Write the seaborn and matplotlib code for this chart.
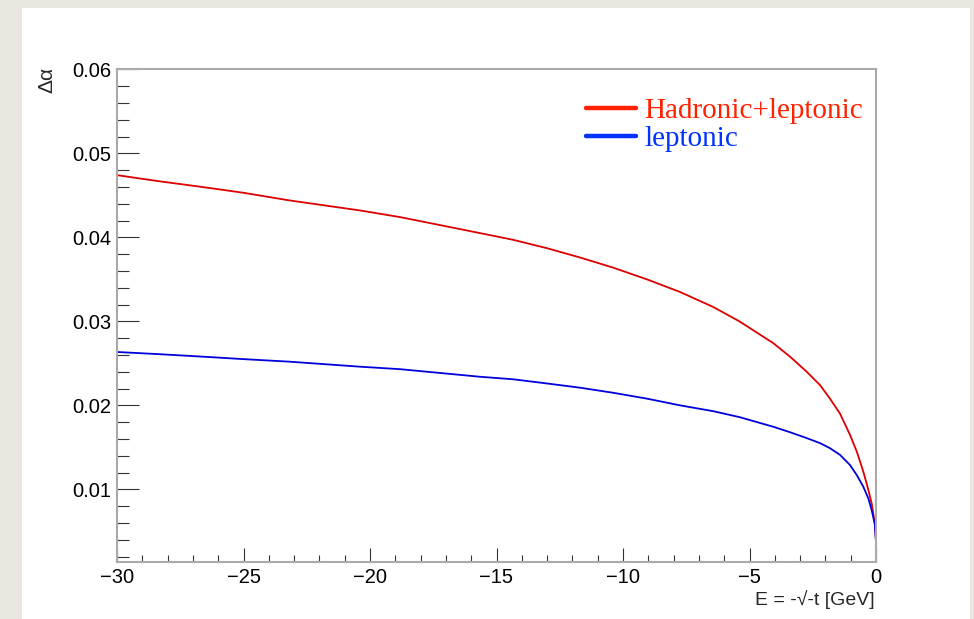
import numpy as np
import pandas as pd
import matplotlib
matplotlib.use('Agg')
import matplotlib.pyplot as plt
import seaborn as sns
from matplotlib.lines import Line2D
from matplotlib.patches import Rectangle
from matplotlib.ticker import MultipleLocator

# values
energy = [-30, -28.4, -26.65, -25, -23.2, -20.4, -18.8, -15.65, -14.34, -13.0, -11.7,
          -10.4, -9.06, -7.75, -6.43, -5.4, -4.06, -3.4, -2.74, -2.21, -1.82, -1.42,
          -1.03, -0.76, -0.5, -0.3, -0.17, -0.05, -0.005]
had_lep = [0.0474, 0.0467, 0.0460, 0.0453, 0.0444, 0.0432, 0.0424, 0.0405, 0.0397, 0.0387, 0.0376,
           0.0364, 0.0350, 0.0335, 0.0317, 0.0300, 0.0274, 0.0258, 0.0240, 0.0224, 0.0208, 0.0190,
           0.0165, 0.0145, 0.0121, 0.0099, 0.0083, 0.0060, 0.0040]
lep = [0.02635, 0.0261, 0.0258, 0.0255, 0.0252, 0.0246, 0.0243, 0.0234, 0.0231, 0.0226, 0.0221,
       0.0215, 0.0208, 0.0200, 0.0193, 0.0186, 0.01745, 0.0168, 0.0161, 0.0155, 0.0149, 0.0141,
       0.0129, 0.0117, 0.0103, 0.0089, 0.0075, 0.0059, 0.0040]
labels = ['Hadronic+leptonic', 'leptonic']

df = pd.DataFrame({
    'E': energy * 2,
    'dalpha': had_lep + lep,
    'set': [labels[0]] * len(energy) + [labels[1]] * len(energy),
})

sns.set_style('white')
plt.rcParams['font.family'] = ['Liberation Sans', 'DejaVu Sans']
plt.rcParams['axes.unicode_minus'] = True

fig = plt.figure(figsize=(9.74, 6.19), dpi=100)
fig.patch.set_facecolor('#e8e6de')
# white pad behind the plot
fig.patches.append(Rectangle((22 / 974, 0), 948 / 974, 611 / 619, transform=fig.transFigure,
                             facecolor='white', edgecolor='none', zorder=-10))

ax = fig.add_axes([117 / 974, 57 / 619, 759 / 974, 492.7 / 619])
ax.set_facecolor('white')

sns.lineplot(data=df, x='E', y='dalpha', hue='set', palette=['#dd0000', '#0000dd'],
             linewidth=1.3, legend=False, ax=ax, sort=False)

ax.set_xlim(-30, 0)
ax.set_ylim(0.00135, 0.06)
ax.xaxis.set_major_locator(MultipleLocator(5))
ax.xaxis.set_minor_locator(MultipleLocator(1))
ax.yaxis.set_minor_locator(MultipleLocator(0.002))
ax.set_yticks([0.01, 0.02, 0.03, 0.04, 0.05, 0.06])
ax.set_yticklabels(['0.01', '0.02', '0.03', '0.04', '0.05', '0.06'])

ax.tick_params(axis='both', which='both', direction='in', colors='#333333', width=0.8,
               labelsize=14.5, labelcolor='black', bottom=True, left=True,
               top=False, right=False)
ax.tick_params(axis='y', which='major', length=15.8, pad=4)
ax.tick_params(axis='y', which='minor', length=8.5)
ax.tick_params(axis='x', which='major', length=10, pad=4)
ax.tick_params(axis='x', which='minor', length=5)
for s in ax.spines.values():
    s.set_color('#aaaaaa')
    s.set_linewidth(1.5)

ax.set_xlabel('')
ax.set_ylabel('')
fig.text(875 / 974, 1 - 605 / 619, 'E = -\u221a-t [GeV]', ha='right', va='baseline', fontsize=14)
fig.text(47 / 974, 1 - 67 / 619, '\u0394\u03b1', rotation=90, ha='center', va='top', fontsize=15)

handles = [Line2D([], [], color='#ff2200', lw=3.2), Line2D([], [], color='#0033ff', lw=3.2)]
leg = ax.legend(handles, labels, loc='upper left', bbox_to_anchor=(574 / 974, 1 - 86 / 619),
                bbox_transform=fig.transFigure, frameon=False, handlelength=1.72,
                handletextpad=0.3, labelspacing=0.05, borderaxespad=0,
                prop={'family': 'Liberation Serif', 'size': 21},
                labelcolor=['#ff2200', '#0033ff'])

fig.savefig('out.png', dpi=100, facecolor=fig.get_facecolor())
